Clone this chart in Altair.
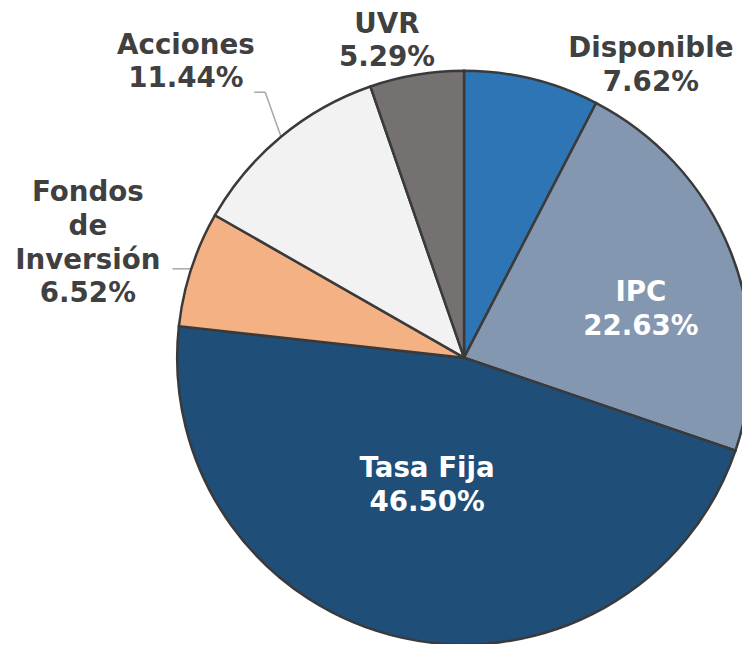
import altair as alt
import pandas as pd

categories = ["Disponible", "IPC", "Tasa Fija", "Fondos de Inversión", "Acciones", "UVR"]
label_names = ["Disponible", "IPC", "Tasa Fija", "Fondos\nde\nInversión", "Acciones", "UVR"]
values = [7.62, 22.63, 46.50, 6.52, 11.44, 5.29]
colors = ["#2E75B6", "#8497B0", "#1F4E79", "#F4B183", "#F2F2F2", "#767171"]

df = pd.DataFrame({
    "cat": categories,
    "name": label_names,
    "value": values,
    "order": list(range(len(categories))),
})

CX, CY, R = 461, 350, 290
FONT = "DejaVu Sans"
FS = 28

base = alt.Chart(df).transform_joinaggregate(
    total="sum(value)"
).transform_window(
    cum="sum(value)", sort=[alt.SortField("order")], frame=[None, 0]
).transform_calculate(
    t0="(datum.cum - datum.value) / datum.total * 2 * PI",
    t1="datum.cum / datum.total * 2 * PI",
).transform_calculate(
    mid="(datum.t0 + datum.t1) / 2",
    label="datum.name + '\\n' + format(datum.value, '.2f') + '%'",
)

arcs = base.mark_arc(radius=R, stroke="#3A3A3A", strokeWidth=2.5).encode(
    x=alt.value(CX),
    y=alt.value(CY),
    theta=alt.Theta("t0:Q", scale=None),
    theta2="t1",
    color=alt.Color("cat:N", scale=alt.Scale(domain=categories, range=colors), legend=None),
)

# label placement: (radius, dx, dy, colour)
placement = {
    "Disponible": (320, 113, -1, "#404040"),
    "UVR": (320, -25, -21, "#404040"),
    "Acciones": (320, -77, -69, "#404040"),
    "Fondos de Inversión": (320, -76, -67, "#404040"),
    "IPC": (185, 7, 4, "#FFFFFF"),
    "Tasa Fija": (130, -9, -14, "#FFFFFF"),
}

texts = []
for cat, (rad, dx, dy, col) in placement.items():
    t = base.transform_filter(alt.datum.cat == cat).mark_text(
        radius=rad, dx=dx, dy=dy, font=FONT, fontSize=FS, fontWeight="bold",
        color=col, align="center", baseline="middle", lineBreak="\n", lineHeight=34,
    ).encode(
        x=alt.value(CX),
        y=alt.value(CY),
        theta=alt.Theta("mid:Q", scale=None),
        text="label:N",
    )
    texts.append(t)

leader = base.transform_filter(
    "datum.cat == 'Acciones' || datum.cat == 'Fondos de Inversión'"
).transform_calculate(
    ax=f"{CX} + {R} * sin(datum.mid)",
    ay=f"{CY} - {R} * cos(datum.mid)",
).transform_calculate(
    ex="datum.cat == 'Acciones' ? datum.ax - 16 : datum.ax - 19",
    ey="datum.cat == 'Acciones' ? datum.ay - 45 : datum.ay",
).transform_calculate(
    fx="datum.cat == 'Acciones' ? datum.ex - 11 : datum.ex",
    fy="datum.ey",
)

seg1 = leader.mark_rule(color="#A6A6A6", strokeWidth=1.5).encode(
    x=alt.X("ax:Q", scale=None, axis=None),
    y=alt.Y("ay:Q", scale=None, axis=None),
    x2="ex:Q",
    y2="ey:Q",
)
seg2 = leader.mark_rule(color="#A6A6A6", strokeWidth=1.5).encode(
    x=alt.X("ex:Q", scale=None, axis=None),
    y=alt.Y("ey:Q", scale=None, axis=None),
    x2="fx:Q",
    y2="fy:Q",
)

chart = alt.layer(seg1, seg2, arcs, *texts).properties(
    width=742, height=636,
    autosize=alt.AutoSizeParams(type="none"),
    padding=0,
).configure_view(stroke=None)

chart.save("out.html", embed_options={"renderer": "svg", "actions": False})
